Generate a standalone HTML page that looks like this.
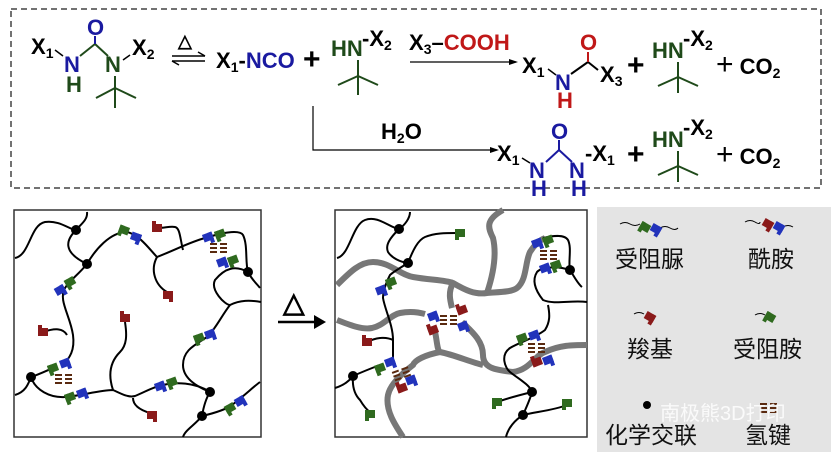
<!DOCTYPE html>
<html><head><meta charset="utf-8"><style>
body{margin:0;background:#fff;width:831px;height:459px;overflow:hidden}
svg text{font-family:"Liberation Sans",Arial,sans-serif;font-weight:bold}
.cn{font-family:"Liberation Sans","Noto Sans CJK SC",sans-serif;font-weight:normal}
</style></head><body>
<svg width="831" height="459" viewBox="0 0 831 459" xmlns="http://www.w3.org/2000/svg">
<rect x="11" y="9" width="810" height="179" fill="none" stroke="#444" stroke-width="1.5" stroke-dasharray="6,4"/>
<g font-size="22">
<text x="31" y="54">X<tspan font-size="14" dy="4">1</tspan></text>
<line x1="55" y1="50" x2="63" y2="56" stroke="#000" stroke-width="1.5"/>
<text x="64" y="72" fill="#1a1aa0">N</text>
<text x="66" y="92" fill="#1f4a1a">H</text>
<line x1="80" y1="56" x2="95" y2="44" stroke="#1f4a1a" stroke-width="2"/>
<line x1="95" y1="44" x2="108" y2="56" stroke="#1f4a1a" stroke-width="2"/>
<line x1="95" y1="44" x2="95" y2="36" stroke="#1a1aa0" stroke-width="2"/>
<text x="87" y="35" fill="#1a1aa0">O</text>
<text x="105" y="72" fill="#1f4a1a">N</text>
<line x1="123" y1="60" x2="130" y2="55" stroke="#000" stroke-width="1.5"/>
<text x="132" y="55">X<tspan font-size="14" dy="4">2</tspan></text>
<g stroke="#1f4a1a" stroke-width="2"><line x1="115" y1="76" x2="115" y2="108"/><line x1="115" y1="88" x2="96" y2="98"/><line x1="115" y1="88" x2="136" y2="98"/></g>
<text x="178" y="47" font-weight="normal" font-size="18">△</text>
<line x1="172" y1="56" x2="205" y2="56" stroke="#000" stroke-width="1.5"/><line x1="198" y1="52" x2="205" y2="56" stroke="#000" stroke-width="1.5"/>
<line x1="172" y1="61" x2="205" y2="61" stroke="#000" stroke-width="1.5"/><line x1="172" y1="61" x2="179" y2="65" stroke="#000" stroke-width="1.5"/>
<text x="216" y="68">X<tspan font-size="14" dy="4">1</tspan><tspan dy="-4">-</tspan><tspan fill="#1a1aa0">NCO</tspan></text>
<text x="303" y="69" font-weight="normal" font-size="30">+</text>
<text x="331" y="56" fill="#1f4a1a">HN</text><text x="362" y="46">-X<tspan font-size="14" dy="4">2</tspan></text>
<g stroke="#1f4a1a" stroke-width="2"><line x1="358" y1="60" x2="358" y2="95"/><line x1="358" y1="76" x2="338" y2="85"/><line x1="358" y1="76" x2="378" y2="85"/></g>
<text x="409" y="50">X<tspan font-size="14" dy="4">3</tspan><tspan dy="-4">–</tspan><tspan fill="#c01818">COOH</tspan></text>
<line x1="410" y1="62" x2="516" y2="62" stroke="#000" stroke-width="1.2"/><polygon points="518,62 509,59 509,65" fill="#000"/>
<text x="522" y="73">X<tspan font-size="14" dy="4">1</tspan></text>
<line x1="548" y1="69" x2="556" y2="75" stroke="#000" stroke-width="1.5"/>
<text x="555" y="90" fill="#1a1aa0">N</text><text x="557" y="108" fill="#c01818">H</text>
<line x1="571" y1="74" x2="588" y2="62" stroke="#000" stroke-width="2"/><line x1="588" y1="62" x2="598" y2="70" stroke="#000" stroke-width="2"/>
<line x1="588" y1="62" x2="588" y2="52" stroke="#c01818" stroke-width="2"/>
<text x="580" y="50" fill="#c01818">O</text>
<text x="600" y="82">X<tspan font-size="14" dy="4">3</tspan></text>
<text x="627" y="75" font-weight="normal" font-size="30">+</text>
<text x="652" y="58" fill="#1f4a1a">HN</text><text x="683" y="46">-X<tspan font-size="14" dy="4">2</tspan></text>
<g stroke="#1f4a1a" stroke-width="2"><line x1="678" y1="62" x2="678" y2="93"/><line x1="678" y1="77" x2="658" y2="86"/><line x1="678" y1="77" x2="698" y2="86"/></g>
<text x="716" y="74"><tspan font-weight="normal" font-size="30">+</tspan> CO<tspan font-size="14" dy="4">2</tspan></text>
<polyline points="313,106 313,150 497,150" fill="none" stroke="#000" stroke-width="1.2"/><polygon points="499,150 490,147 490,153" fill="#000"/>
<text x="381" y="139">H<tspan font-size="14" dy="4">2</tspan><tspan dy="-4">O</tspan></text>
<text x="497" y="161">X<tspan font-size="14" dy="4">1</tspan></text>
<line x1="522" y1="158" x2="530" y2="163" stroke="#000" stroke-width="1.5"/>
<text x="529" y="178" fill="#1a1aa0">N</text><text x="531" y="196" fill="#1a1aa0">H</text>
<line x1="546" y1="162" x2="559" y2="150" stroke="#1a1aa0" stroke-width="2"/><line x1="559" y1="150" x2="572" y2="162" stroke="#1a1aa0" stroke-width="2"/><line x1="559" y1="150" x2="559" y2="140" stroke="#1a1aa0" stroke-width="2"/>
<text x="551" y="139" fill="#1a1aa0">O</text>
<text x="569" y="178" fill="#1a1aa0">N</text><text x="571" y="196" fill="#1a1aa0">H</text>
<text x="585" y="161">-X<tspan font-size="14" dy="4">1</tspan></text>
<text x="627" y="164" font-weight="normal" font-size="30">+</text>
<text x="652" y="147" fill="#1f4a1a">HN</text><text x="683" y="135">-X<tspan font-size="14" dy="4">2</tspan></text>
<g stroke="#1f4a1a" stroke-width="2"><line x1="678" y1="151" x2="678" y2="182"/><line x1="678" y1="166" x2="658" y2="175"/><line x1="678" y1="166" x2="698" y2="175"/></g>
<text x="716" y="164"><tspan font-weight="normal" font-size="30">+</tspan> CO<tspan font-size="14" dy="4">2</tspan></text>
</g>

<defs>
<g id="gr"><rect x="-5" y="-4" width="10" height="8" fill="#2f6a1f"/><rect x="-5" y="-4" width="4" height="11" fill="#2f6a1f"/></g>
<g id="bl"><rect x="-5" y="-4" width="10" height="8" fill="#2233bb"/><rect x="1" y="-4" width="4" height="11" fill="#2233bb"/></g>
<g id="rd"><rect x="-5" y="-4" width="10" height="8" fill="#8a1a1a"/><rect x="1" y="-4" width="4" height="11" fill="#8a1a1a"/></g>
<g id="hb" stroke="#5a2a10" stroke-width="2"><line x1="-8" y1="-4" x2="-1" y2="-4"/><line x1="-8" y1="0" x2="-1" y2="0"/><line x1="-8" y1="4" x2="-1" y2="4"/><line x1="2" y1="-4" x2="9" y2="-4"/><line x1="2" y1="0" x2="9" y2="0"/><line x1="2" y1="4" x2="9" y2="4"/></g>
</defs>

<!-- left network -->
<rect x="14" y="210" width="247" height="227" fill="#fff" stroke="#333" stroke-width="1.5"/>
<g fill="none" stroke="#000" stroke-width="2">
<path d="M15,258 C30,255 30,225 45,222 C60,220 70,230 76,230 C80,225 88,220 87,212"/>
<path d="M76,230 C66,240 62,252 87,264"/>
<path d="M87,264 C78,275 70,280 65,288 C58,300 70,315 73,335 C75,350 70,358 62,366"/>
<path d="M87,264 C95,250 110,232 127,232 C140,235 150,250 157,257 C175,250 190,242 205,238"/>
<path d="M157,257 C150,270 155,285 167,292"/>
<path d="M183,250 C180,238 180,228 175,227 C170,226 165,228 157,228"/>
<path d="M212,236 C225,232 240,230 243,235 C248,245 245,262 248,272 C252,280 258,285 260,288"/>
<path d="M248,272 C235,265 225,268 215,280 C210,290 225,305 230,305 C240,300 250,300 261,302"/>
<path d="M230,305 C222,315 215,330 207,337 C195,345 183,350 183,365 C183,380 200,388 210,392"/>
<path d="M210,392 C205,400 203,410 202,416 C195,425 185,430 183,437"/>
<path d="M202,416 C215,413 225,410 232,405 C245,395 252,388 260,382"/>
<path d="M15,395 C25,392 28,385 31,377 C40,374 48,370 53,368"/>
<path d="M31,377 C35,390 50,398 65,397 C80,396 100,390 113,390 C120,393 128,398 135,396 C145,392 155,386 163,385 C175,382 195,382 210,392"/>
<path d="M113,390 C108,375 110,362 120,352 C127,345 127,335 125,322"/>
<path d="M133,398 C133,405 140,410 150,413"/>
<path d="M43,332 C55,328 63,328 67,335"/>
</g>
<g fill="#000"><circle cx="76" cy="230" r="5"/><circle cx="87" cy="264" r="5"/><circle cx="248" cy="272" r="5"/><circle cx="31" cy="377" r="5"/><circle cx="210" cy="392" r="5"/><circle cx="202" cy="416" r="5"/></g>
<g>
<use href="#gr" transform="translate(124,230) rotate(20)"/><use href="#bl" transform="translate(136,237) rotate(20)"/>
<use href="#gr" transform="translate(70,282) rotate(-30)"/><use href="#bl" transform="translate(60,290) rotate(-30)"/>
<use href="#bl" transform="translate(208,237) rotate(-20)"/><use href="#gr" transform="translate(220,234) rotate(-20)"/>
<use href="#hb" transform="translate(218,248)"/>
<use href="#bl" transform="translate(222,262) rotate(-20)"/><use href="#gr" transform="translate(233,260) rotate(-20)"/>
<use href="#gr" transform="translate(199,338) rotate(-20)"/><use href="#bl" transform="translate(210,334) rotate(-20)"/>
<use href="#gr" transform="translate(53,368) rotate(-20)"/><use href="#bl" transform="translate(65,363) rotate(-20)"/>
<use href="#hb" transform="translate(63,379)"/>
<use href="#gr" transform="translate(70,397) rotate(-20)"/><use href="#bl" transform="translate(82,393) rotate(-20)"/>
<use href="#bl" transform="translate(160,386) rotate(-20)"/><use href="#gr" transform="translate(172,382) rotate(-20)"/>
<use href="#gr" transform="translate(230,408) rotate(-30)"/><use href="#bl" transform="translate(240,401) rotate(-30)"/>
<use href="#rd" transform="translate(157,228) rotate(180)"/><use href="#rd" transform="translate(168,295)"/>
<use href="#rd" transform="translate(43,332) rotate(180)"/><use href="#rd" transform="translate(125,318) rotate(180)"/>
<use href="#rd" transform="translate(152,415)"/>
</g>

<!-- right network -->
<rect x="335" y="210" width="252" height="227" fill="#fff" stroke="#333" stroke-width="1.5"/>
<g fill="none" stroke="#777" stroke-width="6">
<path d="M337,285 C350,272 360,262 373,262 C390,262 400,275 413,277 C430,280 445,280 453,283 C465,290 475,295 487,293 C500,292 512,292 517,288 C527,280 525,262 530,252 C535,244 540,240 545,238"/>
<path d="M453,283 C448,292 450,300 452,308"/>
<path d="M487,293 C493,275 497,255 493,238 C488,228 485,220 503,210"/>
<path d="M337,320 C350,325 362,330 372,328 C385,325 390,315 400,313 C410,311 418,312 425,314"/>
<path d="M462,322 C470,330 483,340 483,355 C483,368 495,370 513,372 C530,370 535,355 545,352 C560,345 572,345 587,345"/>
<path d="M435,332 C437,340 437,350 440,352 C455,355 470,362 483,365"/>
<path d="M440,352 C425,355 415,360 413,365 C400,375 390,385 388,395 C385,410 395,425 403,437"/>
</g>
<g fill="none" stroke="#000" stroke-width="2">
<path d="M337,258 C350,255 352,225 365,220 C378,215 390,228 399,229 C405,225 410,218 410,212"/>
<path d="M399,229 C390,238 385,245 388,252 C392,258 400,262 408,263"/>
<path d="M408,263 C413,250 418,240 425,237 C435,233 445,233 457,233"/>
<path d="M408,263 C400,268 393,272 390,275 C385,285 383,292 383,298 C385,310 393,325 393,340 C393,350 393,355 393,360"/>
<path d="M367,342 C375,338 385,336 393,340"/>
<path d="M335,388 C345,385 350,380 353,376 C362,372 372,368 380,365"/>
<path d="M353,376 C352,388 355,395 360,400 C363,405 367,410 370,412"/>
<path d="M543,238 C555,235 565,235 568,240 C572,248 568,262 570,270 C575,278 578,284 582,287"/>
<path d="M570,270 C555,265 540,268 537,272 C532,280 535,290 543,300 C555,305 570,300 587,302"/>
<path d="M548,305 C550,315 550,322 545,330 C535,338 520,342 510,348 C500,355 505,368 510,372 C520,380 530,385 532,392 C530,400 525,410 523,415 C515,420 508,428 506,437"/>
<path d="M532,392 C520,395 508,398 497,402"/>
<path d="M523,415 C535,412 555,410 567,405"/>
</g>
<g fill="#000"><circle cx="399" cy="229" r="5"/><circle cx="408" cy="263" r="5"/><circle cx="570" cy="270" r="5"/><circle cx="353" cy="376" r="5"/><circle cx="532" cy="392" r="5"/><circle cx="523" cy="415" r="5"/></g>
<g>
<use href="#gr" transform="translate(460,233)"/>
<use href="#gr" transform="translate(391,282) rotate(-20)"/><use href="#bl" transform="translate(381,290) rotate(-20)"/>
<use href="#bl" transform="translate(433,316) rotate(-20)"/><use href="#rd" transform="translate(433,330) rotate(160)"/>
<use href="#hb" transform="translate(448,320)"/>
<use href="#rd" transform="translate(462,310) rotate(160)"/><use href="#bl" transform="translate(463,326) rotate(-20)"/>
<use href="#rd" transform="translate(367,342) rotate(180)"/>
<use href="#bl" transform="translate(390,362) rotate(-20)"/><use href="#gr" transform="translate(380,368) rotate(-20)"/>
<use href="#hb" transform="translate(401,374) rotate(-20)"/>
<use href="#bl" transform="translate(411,380) rotate(-20)"/><use href="#rd" transform="translate(402,388) rotate(160)"/>
<use href="#gr" transform="translate(370,414)"/>
<use href="#bl" transform="translate(537,243) rotate(-20)"/><use href="#gr" transform="translate(548,240) rotate(-20)"/>
<use href="#hb" transform="translate(548,255)"/>
<use href="#bl" transform="translate(545,268) rotate(-20)"/><use href="#gr" transform="translate(556,265) rotate(-20)"/>
<use href="#gr" transform="translate(522,338) rotate(-20)"/><use href="#bl" transform="translate(534,335) rotate(-20)"/>
<use href="#hb" transform="translate(536,348)"/>
<use href="#rd" transform="translate(537,362) rotate(160)"/><use href="#bl" transform="translate(548,360) rotate(-20)"/>
<use href="#gr" transform="translate(497,402)"/><use href="#gr" transform="translate(567,403)"/>
</g>
<!-- middle arrow -->
<text x="283" y="312" font-weight="normal" font-size="28">△</text>
<line x1="278" y1="322" x2="320" y2="322" stroke="#000" stroke-width="2.5"/><polygon points="326,322 314,315 314,329" fill="#000"/>
<!-- legend -->
<rect x="597" y="207" width="234" height="245" fill="#e4e4e4"/>
<g fill="none" stroke="#000" stroke-width="1"><path d="M620,224 q5,-3 10,0 t10,0"/><path d="M660,228 q5,-3 10,0 t8,0"/><path d="M745,222 q5,-3 10,0 t5,0"/><path d="M783,227 q5,-3 10,0"/><path d="M634,314 q5,-3 10,0"/><path d="M755,315 q5,-3 10,0"/></g>
<use href="#gr" transform="translate(645,227) rotate(30)"/><use href="#bl" transform="translate(656,229) rotate(30)"/>
<use href="#rd" transform="translate(768,224) rotate(30)"/><use href="#bl" transform="translate(779,227) rotate(30)"/>
<use href="#rd" transform="translate(650,317) rotate(30)"/><use href="#gr" transform="translate(770,317) rotate(30)"/>
<circle cx="647" cy="405" r="4" fill="#000"/>
<use href="#hb" transform="translate(768,408)"/>
<g font-size="23" fill="#111">
<text class="cn" x="615" y="267">受阻脲</text><text class="cn" x="748" y="267">酰胺</text>
<text class="cn" x="627" y="357">羧基</text><text class="cn" x="733" y="357">受阻胺</text>
<text class="cn" x="605" y="443">化学交联</text><text class="cn" x="745" y="443">氢键</text>
</g>
<text class="cn" x="660" y="420" font-size="20" fill="#fff" opacity="0.85">南极熊3D打印</text>
</svg>
</body></html>
